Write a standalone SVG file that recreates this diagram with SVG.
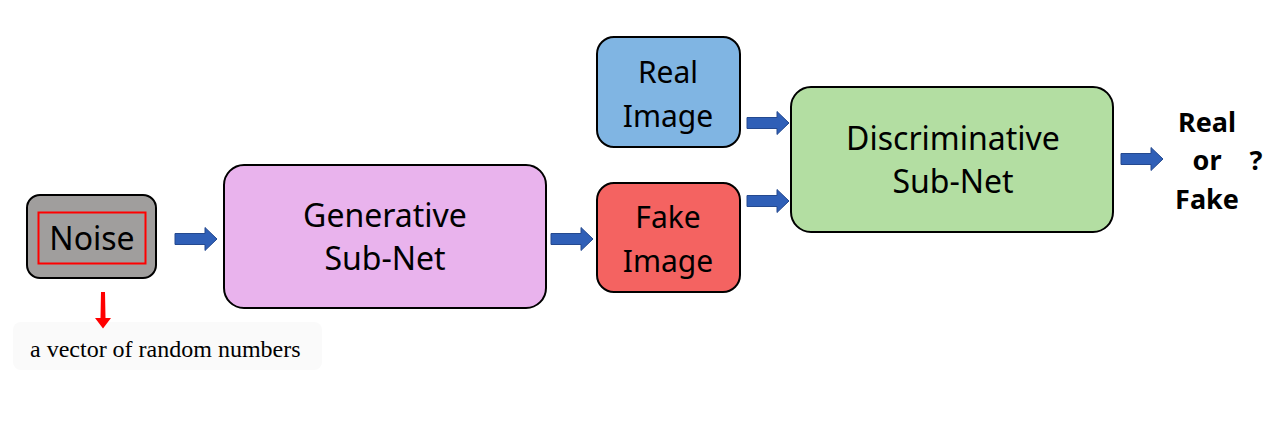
<svg xmlns="http://www.w3.org/2000/svg" xmlns:xlink="http://www.w3.org/1999/xlink" width="1280" height="426" viewBox="0 0 1280 426">
  <style>
    .box { stroke: #000; stroke-width: 2; }
    .lbl { font-family: "Noto Sans", "Open Sans", sans-serif; font-size: 32px; fill: #000; text-anchor: middle; }
    .small { font-size: 30px; }
    .out { font-family: "Noto Sans", "Open Sans", sans-serif; font-size: 27px; font-weight: bold; fill: #000; text-anchor: middle; }
    .note { font-family: "Liberation Serif", serif; font-size: 24px; fill: #000; }
  </style>
  <defs>
    <path id="blockArrow" d="M0,-5.5 H30 V-11.5 L42,0 L30,11.5 V5.5 H0 Z" fill="#2f5fb7" stroke="#24498f" stroke-width="1"/>
  </defs>
  <rect width="1280" height="426" fill="#fff"/>

  <g id="noise">
    <rect class="box" x="27" y="195" width="129" height="83" rx="13" fill="#a09e9d"/>
    <rect x="38.5" y="212.5" width="107" height="51" fill="none" stroke="#ff0000" stroke-width="2"/>
    <text class="lbl" x="92" y="250">Noise</text>
  </g>

  <g id="note">
    <rect x="13" y="322" width="309" height="48" rx="8" fill="#fafafa"/>
    <path d="M101,292 H105 L105.5,318 H111 L103,328.5 L95,318 H100.5 Z" fill="#ff0000"/>
    <text class="note" x="30" y="357">a vector of random numbers</text>
  </g>

  <g id="generative">
    <rect class="box" x="224" y="165" width="322" height="143" rx="20" fill="#e9b3ed"/>
    <text class="lbl" x="385" y="227">Generative</text>
    <text class="lbl" x="385" y="270">Sub-Net</text>
  </g>

  <g id="real-image">
    <rect class="box" x="597" y="37" width="143" height="110" rx="17" fill="#80b5e3"/>
    <text class="lbl small" x="668" y="83">Real</text>
    <text class="lbl small" x="668" y="127">Image</text>
  </g>

  <g id="fake-image">
    <rect class="box" x="597" y="183" width="143" height="109" rx="17" fill="#f46361"/>
    <text class="lbl small" x="668" y="228">Fake</text>
    <text class="lbl small" x="668" y="272">Image</text>
  </g>

  <g id="discriminative">
    <rect class="box" x="791" y="87" width="322" height="145" rx="20" fill="#b3dea2"/>
    <text class="lbl" x="953" y="150">Discriminative</text>
    <text class="lbl" x="953" y="193">Sub-Net</text>
  </g>

  <g id="result">
    <text class="out" x="1207" y="132">Real</text>
    <text class="out" x="1207" y="170">or</text>
    <text class="out" x="1207" y="209">Fake</text>
    <text class="out" x="1256" y="170">?</text>
  </g>

  <g id="connectors">
    <use href="#blockArrow" x="175" y="239"/>
    <use href="#blockArrow" x="551" y="239"/>
    <use href="#blockArrow" x="747" y="123"/>
    <use href="#blockArrow" x="747" y="201"/>
    <use href="#blockArrow" x="1121" y="159"/>
  </g>
</svg>
